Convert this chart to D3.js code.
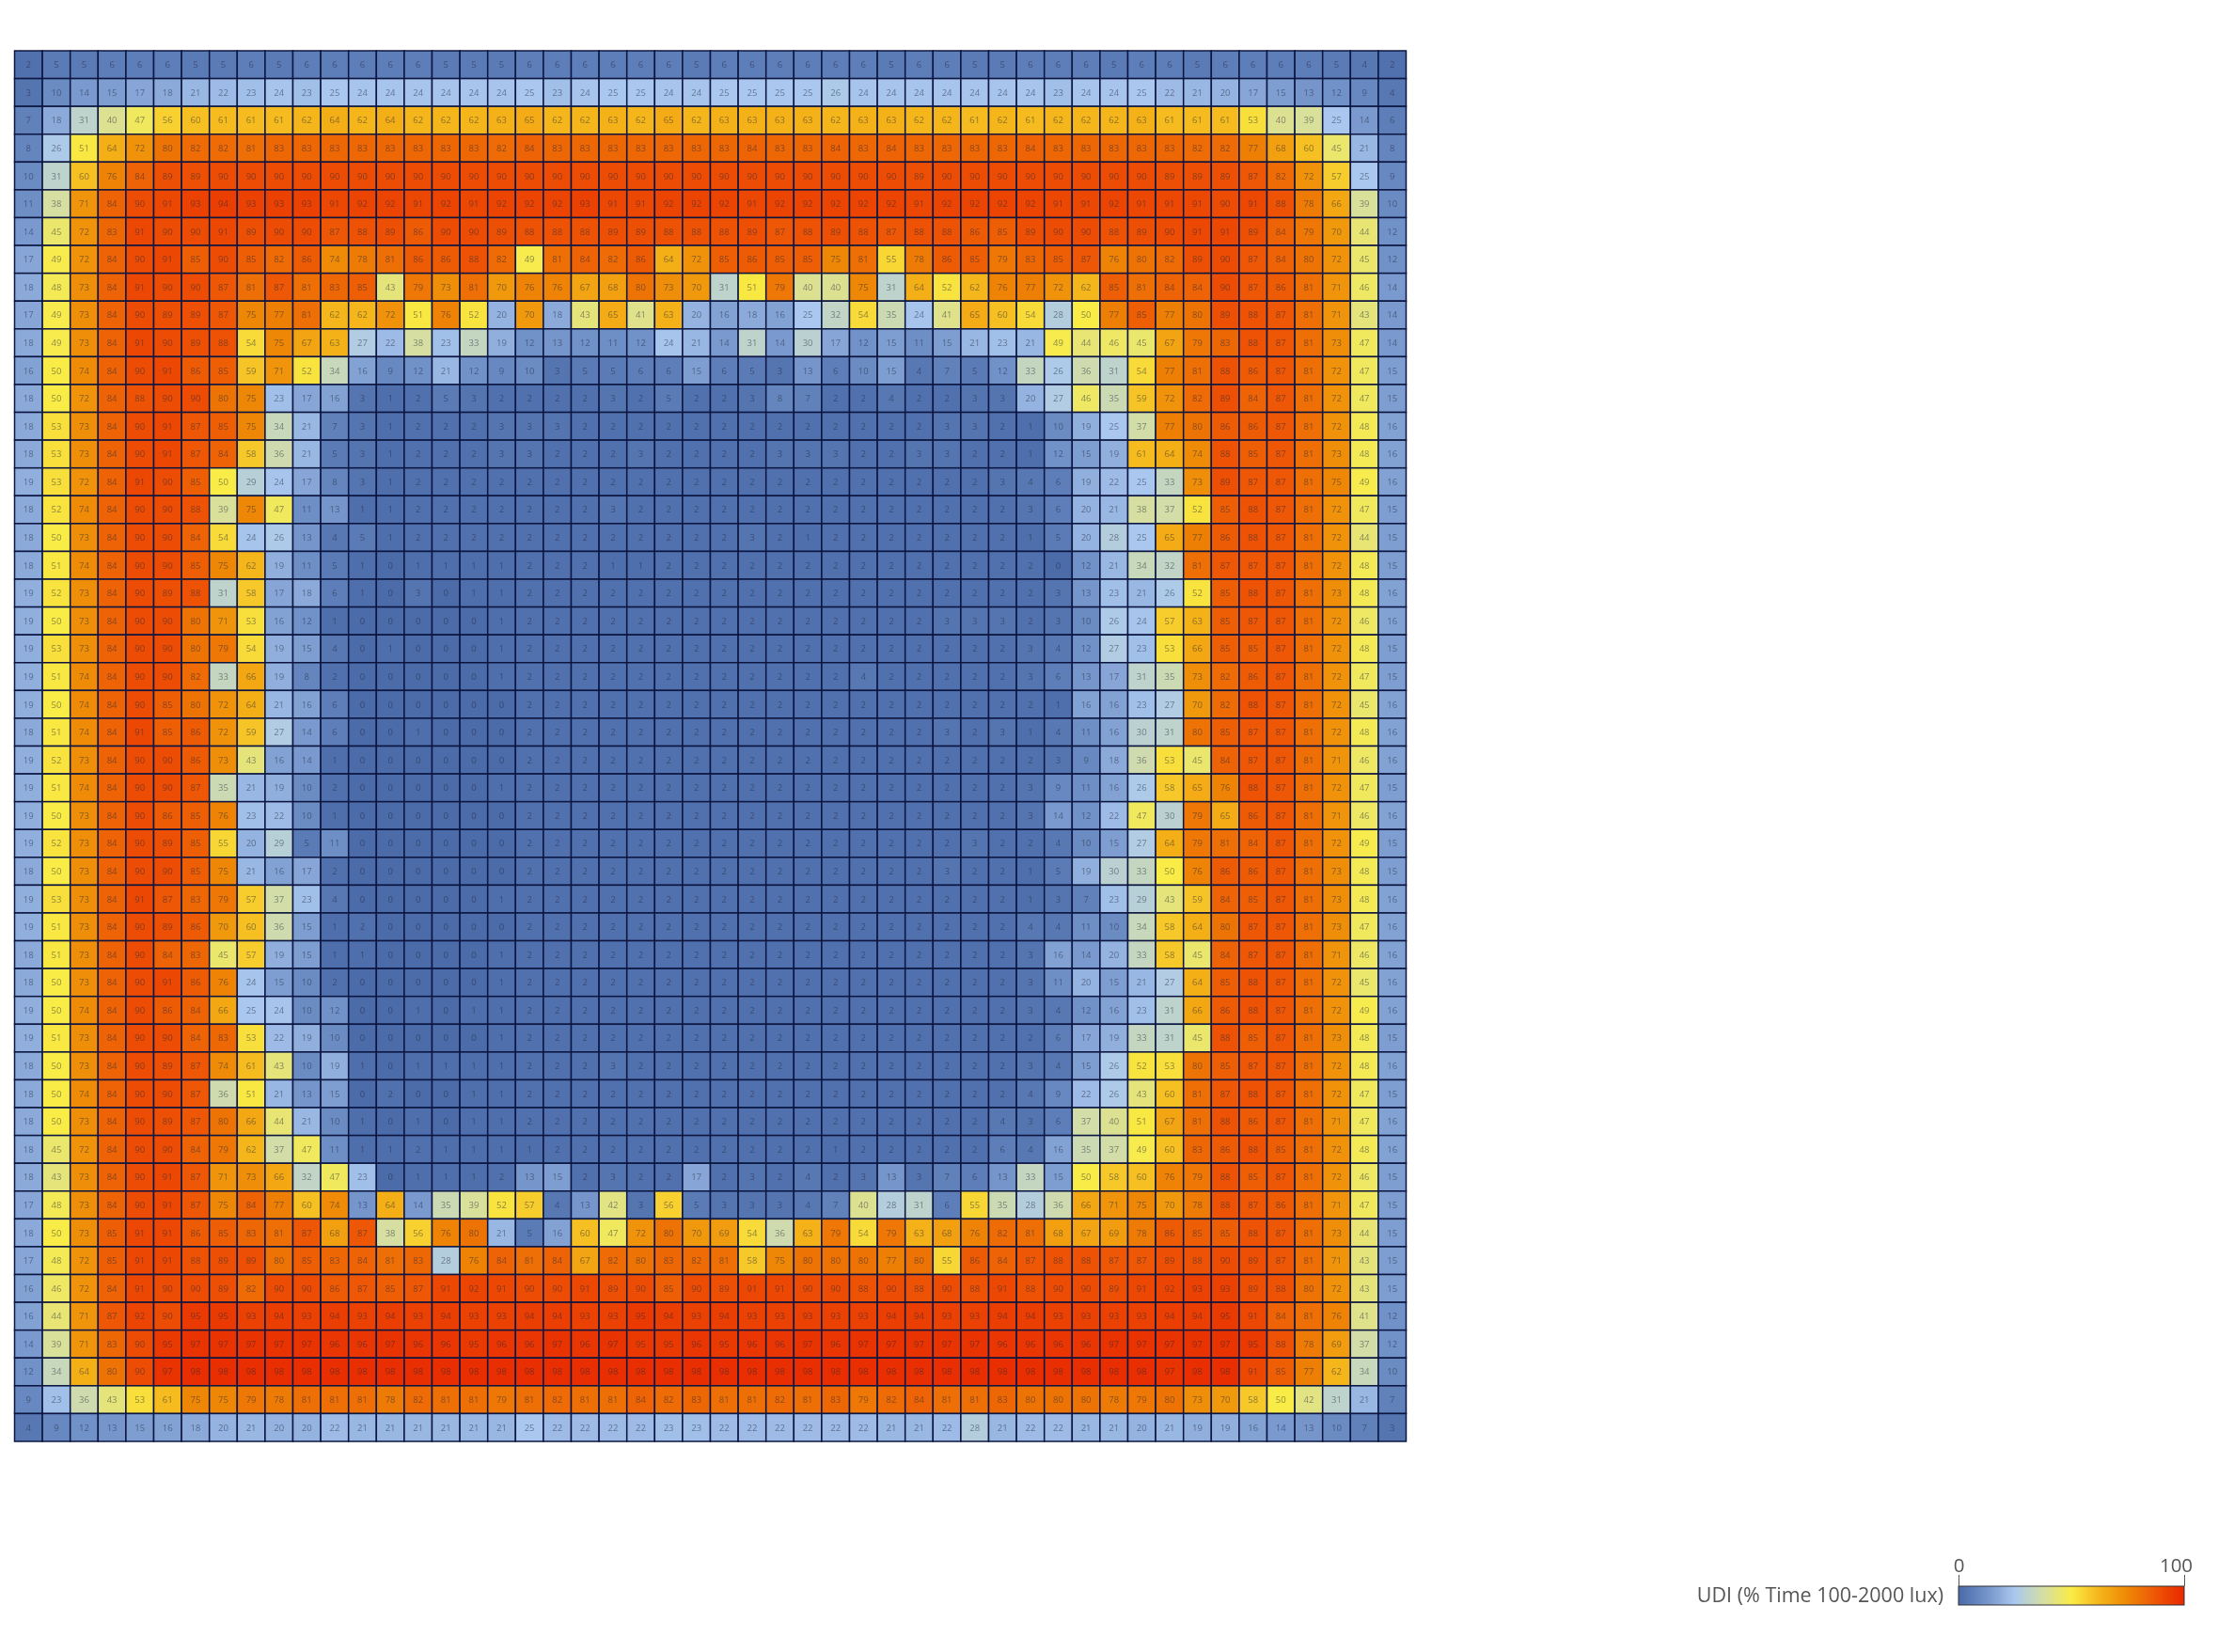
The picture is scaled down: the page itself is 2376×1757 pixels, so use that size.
<!DOCTYPE html>
<html>
<head>
<meta charset="utf-8">
<script src="https://cdn.jsdelivr.net/npm/d3@7"></script>
<style>
  html, body { margin: 0; background: #fff; }
  svg { display: block; filter: blur(0.7px); }
  .cell-label { font-family: "Open Sans", sans-serif; font-size: 9.5px; fill: #20283c; fill-opacity: .5; text-anchor: middle; }
  .legend text { font-family: "Open Sans", sans-serif; font-size: 20.5px; fill: #555; }
  .legend .legend-title { font-size: 21.5px; }
</style>
</head>
<body>
<div id="chart"></div>
<script>
// udi values, one array per row, top to bottom
var udi = [
  [2,5,5,6,6,6,5,5,6,5,6,6,6,6,6,5,5, 5,6,6,6,6,6,6,5,6,6,6,6,6,6,5,6, 6,5,5,6,6,6,5,6,6,5,6,6,6,6,5,4,2],
  [3,10,14,15,17,18,21,22,23,24,23,25,24,24,24,24,24, 24,25,23,24,25,25,24,24,25,25,25,25,26,24,24,24, 24,24,24,24,23,24,24,25,22,21,20,17,15,13,12,9,4],
  [7,18,31,40,47,56,60,61,61,61,62,64,62,64,62,62,62, 63,65,62,62,63,62,65,62,63,63,63,63,62,63,63,62, 62,61,62,61,62,62,62,63,61,61,61,53,40,39,25,14,6],
  [8,26,51,64,72,80,82,82,81,83,83,83,83,83,83,83,83, 82,84,83,83,83,83,83,83,83,84,83,83,84,83,84,83, 83,83,83,84,83,83,83,83,83,82,82,77,68,60,45,21,8],
  [10,31,60,76,84,89,89,90,90,90,90,90,90,90,90,90,90, 90,90,90,90,90,90,90,90,90,90,90,90,90,90,90,89, 90,90,90,90,90,90,90,90,89,89,89,87,82,72,57,25,9],
  [11,38,71,84,90,91,93,94,93,93,93,91,92,92,91,92,91, 92,92,92,93,91,91,92,92,92,91,92,92,92,92,92,91, 92,92,92,92,91,91,92,91,91,91,90,91,88,78,66,39,10],
  [14,45,72,83,91,90,90,91,89,90,90,87,88,89,86,90,90, 89,88,88,88,89,89,88,88,88,89,87,88,89,88,87,88, 88,86,85,89,90,90,88,89,90,91,91,89,84,79,70,44,12],
  [17,49,72,84,90,91,85,90,85,82,86,74,78,81,86,86,88, 82,49,81,84,82,86,64,72,85,86,85,85,75,81,55,78, 86,85,79,83,85,87,76,80,82,89,90,87,84,80,72,45,12],
  [18,48,73,84,91,90,90,87,81,87,81,83,85,43,79,73,81, 70,76,76,67,68,80,73,70,31,51,79,40,40,75,31,64, 52,62,76,77,72,62,85,81,84,84,90,87,86,81,71,46,14],
  [17,49,73,84,90,89,89,87,75,77,81,62,62,72,51,76,52, 20,70,18,43,65,41,63,20,16,18,16,25,32,54,35,24, 41,65,60,54,28,50,77,85,77,80,89,88,87,81,71,43,14],
  [18,49,73,84,91,90,89,88,54,75,67,63,27,22,38,23,33, 19,12,13,12,11,12,24,21,14,31,14,30,17,12,15,11, 15,21,23,21,49,44,46,45,67,79,83,88,87,81,73,47,14],
  [16,50,74,84,90,91,86,85,59,71,52,34,16,9,12,21,12, 9,10,3,5,5,6,6,15,6,5,3,13,6,10,15,4, 7,5,12,33,26,36,31,54,77,81,88,86,87,81,72,47,15],
  [18,50,72,84,88,90,90,80,75,23,17,16,3,1,2,5,3, 2,2,2,2,3,2,5,2,2,3,8,7,2,2,4,2, 2,3,3,20,27,46,35,59,72,82,89,84,87,81,72,47,15],
  [18,53,73,84,90,91,87,85,75,34,21,7,3,1,2,2,2, 3,3,3,2,2,2,2,2,2,2,2,2,2,2,2,2, 3,3,2,1,10,19,25,37,77,80,86,86,87,81,72,48,16],
  [18,53,73,84,90,91,87,84,58,36,21,5,3,1,2,2,2, 3,3,2,2,2,3,2,2,2,2,3,3,3,2,2,3, 3,2,2,1,12,15,19,61,64,74,88,85,87,81,73,48,16],
  [19,53,72,84,91,90,85,50,29,24,17,8,3,1,2,2,2, 2,2,2,2,2,2,2,2,2,2,2,2,2,2,2,2, 2,2,3,4,6,19,22,25,33,73,89,87,87,81,75,49,16],
  [18,52,74,84,90,90,88,39,75,47,11,13,1,1,2,2,2, 2,2,2,2,3,2,2,2,2,2,2,2,2,2,2,2, 2,2,2,3,6,20,21,38,37,52,85,88,87,81,72,47,15],
  [18,50,73,84,90,90,84,54,24,26,13,4,5,1,2,2,2, 2,2,2,2,2,2,2,2,2,3,2,1,2,2,2,2, 2,2,2,1,5,20,28,25,65,77,86,88,87,81,72,44,15],
  [18,51,74,84,90,90,85,75,62,19,11,5,1,0,1,1,1, 1,2,2,2,1,1,2,2,2,2,2,2,2,2,2,2, 2,2,2,2,0,12,21,34,32,81,87,87,87,81,72,48,15],
  [19,52,73,84,90,89,88,31,58,17,18,6,1,0,3,0,1, 1,2,2,2,2,2,2,2,2,2,2,2,2,2,2,2, 2,2,2,2,3,13,23,21,26,52,85,88,87,81,73,48,16],
  [19,50,73,84,90,90,80,71,53,16,12,1,0,0,0,0,0, 1,2,2,2,2,2,2,2,2,2,2,2,2,2,2,2, 3,3,3,2,3,10,26,24,57,63,85,87,87,81,72,46,16],
  [19,53,73,84,90,90,80,79,54,19,15,4,0,1,0,0,0, 1,2,2,2,2,2,2,2,2,2,2,2,2,2,2,2, 2,2,2,3,4,12,27,23,53,66,85,85,87,81,72,48,15],
  [19,51,74,84,90,90,82,33,66,19,8,2,0,0,0,0,0, 1,2,2,2,2,2,2,2,2,2,2,2,2,4,2,2, 2,2,2,3,6,13,17,31,35,73,82,86,87,81,72,47,15],
  [19,50,74,84,90,85,80,72,64,21,16,6,0,0,0,0,0, 0,2,2,2,2,2,2,2,2,2,2,2,2,2,2,2, 2,2,2,2,1,16,16,23,27,70,82,88,87,81,72,45,16],
  [18,51,74,84,91,85,86,72,59,27,14,6,0,0,1,0,0, 0,2,2,2,2,2,2,2,2,2,2,2,2,2,2,2, 3,2,3,1,4,11,16,30,31,80,85,87,87,81,72,48,16],
  [19,52,73,84,90,90,86,73,43,16,14,1,0,0,0,0,0, 0,2,2,2,2,2,2,2,2,2,2,2,2,2,2,2, 2,2,2,2,3,9,18,36,53,45,84,87,87,81,71,46,16],
  [19,51,74,84,90,90,87,35,21,19,10,2,0,0,0,0,0, 1,2,2,2,2,2,2,2,2,2,2,2,2,2,2,2, 2,2,2,3,9,11,16,26,58,65,76,88,87,81,72,47,15],
  [19,50,73,84,90,86,85,76,23,22,10,1,0,0,0,0,0, 0,2,2,2,2,2,2,2,2,2,2,2,2,2,2,2, 2,2,2,3,14,12,22,47,30,79,65,86,87,81,71,46,16],
  [19,52,73,84,90,89,85,55,20,29,5,11,0,0,0,0,0, 0,2,2,2,2,2,2,2,2,2,2,2,2,2,2,2, 2,3,2,2,4,10,15,27,64,79,81,84,87,81,72,49,15],
  [18,50,73,84,90,90,85,75,21,16,17,2,0,0,0,0,0, 0,2,2,2,2,2,2,2,2,2,2,2,2,2,2,2, 3,2,2,1,5,19,30,33,50,76,86,86,87,81,73,48,15],
  [19,53,73,84,91,87,83,79,57,37,23,4,0,0,0,0,0, 1,2,2,2,2,2,2,2,2,2,2,2,2,2,2,2, 2,2,2,1,3,7,23,29,43,59,84,85,87,81,73,48,16],
  [19,51,73,84,90,89,86,70,60,36,15,1,2,0,0,0,0, 0,2,2,2,2,2,2,2,2,2,2,2,2,2,2,2, 2,2,2,4,4,11,10,34,58,64,80,87,87,81,73,47,16],
  [18,51,73,84,90,84,83,45,57,19,15,1,1,0,0,0,0, 1,2,2,2,2,2,2,2,2,2,2,2,2,2,2,2, 2,2,2,3,16,14,20,33,58,45,84,87,87,81,71,46,16],
  [18,50,73,84,90,91,86,76,24,15,10,2,0,0,0,0,0, 1,2,2,2,2,2,2,2,2,2,2,2,2,2,2,2, 2,2,2,3,11,20,15,21,27,64,85,88,87,81,72,45,16],
  [19,50,74,84,90,86,84,66,25,24,10,12,0,0,1,0,1, 1,2,2,2,2,2,2,2,2,2,2,2,2,2,2,2, 2,2,2,3,4,12,16,23,31,66,86,88,87,81,72,49,16],
  [19,51,73,84,90,90,84,83,53,22,19,10,0,0,0,0,0, 1,2,2,2,2,2,2,2,2,2,2,2,2,2,2,2, 2,2,2,2,6,17,19,33,31,45,88,85,87,81,73,48,15],
  [18,50,73,84,90,89,87,74,61,43,10,19,1,0,1,1,1, 1,2,2,2,3,2,2,2,2,2,2,2,2,2,2,2, 2,2,2,3,4,15,26,52,53,80,85,87,87,81,72,48,16],
  [18,50,74,84,90,90,87,36,51,21,13,15,0,2,0,0,1, 1,2,2,2,2,2,2,2,2,2,2,2,2,2,2,2, 2,2,2,4,9,22,26,43,60,81,87,88,87,81,72,47,15],
  [18,50,73,84,90,89,87,80,66,44,21,10,1,0,1,0,1, 1,2,2,2,2,2,2,2,2,2,2,2,2,2,2,2, 2,2,4,3,6,37,40,51,67,81,88,86,87,81,71,47,16],
  [18,45,72,84,90,90,84,79,62,37,47,11,1,1,2,1,1, 1,1,2,2,2,2,2,2,2,2,2,2,1,2,2,2, 2,2,6,4,16,35,37,49,60,83,86,88,85,81,72,48,16],
  [18,43,73,84,90,91,87,71,73,66,32,47,23,0,1,1,1, 2,13,15,2,3,2,2,17,2,3,2,4,2,3,13,3, 7,6,13,33,15,50,58,60,76,79,88,85,87,81,72,46,15],
  [17,48,73,84,90,91,87,75,84,77,60,74,13,64,14,35,39, 52,57,4,13,42,3,56,5,3,3,3,4,7,40,28,31, 6,55,35,28,36,66,71,75,70,78,88,87,86,81,71,47,15],
  [18,50,73,85,91,91,86,85,83,81,87,68,87,38,56,76,80, 21,5,16,60,47,72,80,70,69,54,36,63,79,54,79,63, 68,76,82,81,68,67,69,78,86,85,85,88,87,81,73,44,15],
  [17,48,72,85,91,91,88,89,89,80,85,83,84,81,83,28,76, 84,81,84,67,82,80,83,82,81,58,75,80,80,80,77,80, 55,86,84,87,88,88,87,87,89,88,90,89,87,81,71,43,15],
  [16,46,72,84,91,90,90,89,82,90,90,86,87,85,87,91,92, 91,90,90,91,89,90,85,90,89,91,91,90,90,88,90,88, 90,88,91,88,90,90,89,91,92,93,93,89,88,80,72,43,15],
  [16,44,71,87,92,90,95,95,93,94,93,94,93,94,93,94,93, 93,94,94,93,93,95,94,93,94,93,93,93,93,93,94,94, 93,93,94,94,93,93,93,93,94,94,95,91,84,81,76,41,12],
  [14,39,71,83,90,95,97,97,97,97,97,96,96,97,96,96,95, 96,96,97,96,97,95,95,96,95,96,96,97,96,97,97,97, 97,97,96,96,96,96,97,97,97,97,97,95,88,78,69,37,12],
  [12,34,64,80,90,97,98,98,98,98,98,98,98,98,98,98,98, 98,98,98,98,98,98,98,98,98,98,98,98,98,98,98,98, 98,98,98,98,98,98,98,98,97,98,98,91,85,77,62,34,10],
  [9,23,36,43,53,61,75,75,79,78,81,81,81,78,82,81,81, 79,81,82,81,81,84,82,83,81,81,82,81,83,79,82,84, 81,81,83,80,80,80,78,79,80,73,70,58,50,42,31,21,7],
  [4,9,12,13,15,16,18,20,21,20,20,22,21,21,21,21,21, 21,25,22,22,22,22,23,23,22,22,22,22,22,22,21,21, 22,28,21,22,22,21,21,20,21,19,19,16,14,13,10,7,3]
];

var colorDomain = [0, 12.5, 25, 37.5, 50, 62.5, 75, 87.5, 100];
var colorRange = ["#4b6ba9", "#7393ca", "#aac8ef", "#d4dea5", "#faec46", "#f5b419", "#ee8705", "#ee5505", "#e82800"];
var legendTicks = [0, 100];
var legendTitle = "UDI (% Time 100-2000 lux)";

var svg = d3.select("#chart").append("svg")
    .attr("width", 2376)
    .attr("height", 1757);

var color = d3.scaleLinear().domain(colorDomain).range(colorRange);

// set the ranges
var x = d3.scaleBand().domain(d3.range(udi[0].length)).range([15.5, 1495.5]);
var y = d3.scaleBand().domain(d3.range(udi.length)).range([54, 1533]);

var cells = [];
udi.forEach(function(row, r) {
    row.forEach(function(v, c) {
        cells.push({row: r, col: c, value: v});
    });
});

var grid = svg.append("g");

grid.selectAll("rect")
    .data(cells)
    .enter().append("rect")
    .attr("x", function(d) { return x(d.col); })
    .attr("y", function(d) { return y(d.row); })
    .attr("width", x.bandwidth())
    .attr("height", y.bandwidth())
    .attr("fill", function(d) { return color(d.value); })
    .attr("stroke", "#0c1640")
    .attr("stroke-width", 1.5);

grid.selectAll("text")
    .data(cells)
    .enter().append("text")
    .attr("class", "cell-label")
    .attr("x", function(d) { return x(d.col) + x.bandwidth() / 2; })
    .attr("y", function(d) { return y(d.row) + y.bandwidth() / 2 + 3.4; })
    .text(function(d) { return d.value; });

// legend
var legendX = d3.scaleLinear().domain([0, 100]).range([2083, 2323]);
var legend = svg.append("g").attr("class", "legend");

var gradient = svg.append("defs").append("linearGradient").attr("id", "udi-gradient");
colorDomain.forEach(function(v, i) {
    gradient.append("stop")
        .attr("offset", v + "%")
        .attr("stop-color", colorRange[i]);
});

legend.append("rect")
    .attr("x", legendX(0))
    .attr("y", 1687)
    .attr("width", legendX(100) - legendX(0))
    .attr("height", 20)
    .attr("fill", "url(#udi-gradient)")
    .attr("stroke", "#333")
    .attr("stroke-width", 1);

var legendAxis = legend.append("g")
    .attr("transform", "translate(0,1687)")
    .call(d3.axisTop(legendX).tickValues(legendTicks).tickSize(12).tickPadding(3));

legendAxis.select(".domain").remove();
legendAxis.selectAll("line").attr("stroke", "#555");
legendAxis.selectAll("text")
    .attr("font-family", null)
    .attr("font-size", null)
    .attr("dx", function(d) { return d == 100 ? -9 : 0; });

legend.append("text")
    .attr("class", "legend-title")
    .attr("x", 2067)
    .attr("y", 1704)
    .attr("text-anchor", "end")
    .text(legendTitle);
</script>
</body>
</html>
